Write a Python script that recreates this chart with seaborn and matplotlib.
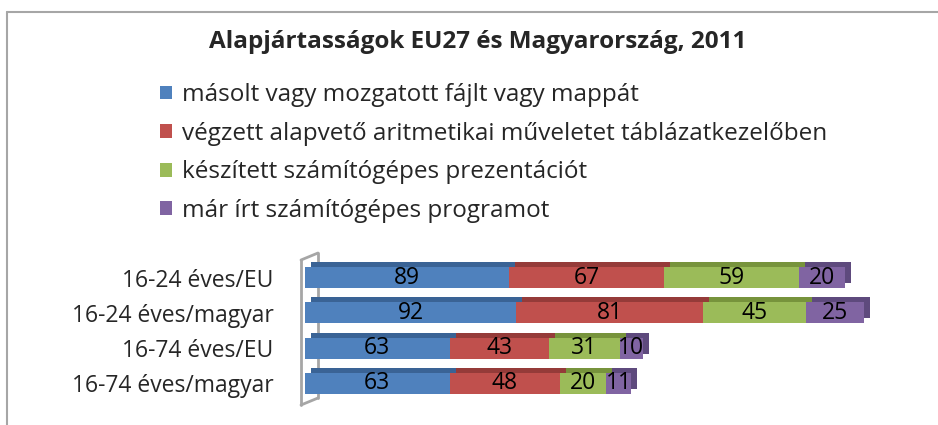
import numpy as np
import pandas as pd
import matplotlib.pyplot as plt
import matplotlib.transforms as mtransforms
from matplotlib.patches import Patch
import seaborn as sns

# chart data
categories = ["16-24 éves/EU", "16-24 éves/magyar", "16-74 éves/EU", "16-74 éves/magyar"]
series = ["másolt vagy mozgatott fájlt vagy mappát",
          "végzett alapvető aritmetikai műveletet táblázatkezelőben",
          "készített számítógépes prezentációt",
          "már írt számítógépes programot"]
copied = [89, 92, 63, 63]
arithmetic = [67, 81, 43, 48]
presentation = [59, 45, 31, 20]
program = [20, 25, 10, 11]

colors = ["#4F81BD", "#C0504D", "#9BBB59", "#8064A2"]
dark = ["#3A6395", "#953B39", "#77933C", "#5E4A7D"]

sns.set_style("white")
plt.rcParams["font.family"] = ["Open Sans", "DejaVu Sans"]

values = np.array([copied, arithmetic, presentation, program])
cum = values.cumsum(axis=0)

fig = plt.figure(figsize=(9.38, 4.25), dpi=100)
ax = fig.add_axes([300 / 938, 1 - 401 / 425, 603 / 938, 141 / 425])
ax.patch.set_visible(False)

# 3D look: darker copy shifted up/right behind the bars
shift = mtransforms.ScaledTranslation(6 / 100, 5 / 100, fig.dpi_scale_trans)
for k in range(3, -1, -1):
    n0 = len(ax.patches)
    df = pd.DataFrame({"cat": categories, "val": cum[k]})
    sns.barplot(data=df, x="val", y="cat", orient="h", color=dark[k],
                saturation=1, width=0.6, ax=ax, zorder=1,
                linewidth=0, edgecolor="none")
    for p in ax.patches[n0:]:
        p.set_transform(ax.transData + shift)

for k in range(3, -1, -1):
    df = pd.DataFrame({"cat": categories, "val": cum[k]})
    sns.barplot(data=df, x="val", y="cat", orient="h", color=colors[k],
                saturation=1, width=0.6, ax=ax, zorder=2,
                linewidth=0, edgecolor="none")

# value labels
for k in range(4):
    for i in range(len(categories)):
        start = cum[k][i] - values[k][i]
        ax.text(start + values[k][i] / 2, i, str(values[k][i]), ha="center",
                va="center", fontsize=16.5, color="black", zorder=5)

ax.set_xlim(-2, 260)
ax.set_xlabel("")
ax.set_ylabel("")
ax.set_xticks([])
ax.tick_params(axis="y", length=0, pad=19, labelsize=16.5)
for s in ["top", "right", "bottom", "left"]:
    ax.spines[s].set_visible(False)

# the gray side wall of the 3D chart
wall = dict(color="#A6A6A6", lw=2, clip_on=False, zorder=0, transform=fig.transFigure)
fig.add_artist(plt.Line2D([301 / 938, 301 / 938], [1 - 405 / 425, 1 - 260 / 425], **wall))
fig.add_artist(plt.Line2D([318 / 938, 318 / 938], [1 - 398 / 425, 1 - 253 / 425], **wall))
fig.add_artist(plt.Line2D([301 / 938, 318 / 938], [1 - 260 / 425, 1 - 253 / 425], **wall))
fig.add_artist(plt.Line2D([301 / 938, 318 / 938], [1 - 405 / 425, 1 - 398 / 425], **wall))

# outer frame
frame = dict(color="#A6A6A6", lw=1.5, transform=fig.transFigure)
fig.add_artist(plt.Line2D([7 / 938, 1.01], [1 - 12 / 425, 1 - 12 / 425], **frame))
fig.add_artist(plt.Line2D([7 / 938, 7 / 938], [-0.01, 1 - 12 / 425], **frame))

fig.text(478 / 938, 1 - 42 / 425, "Alapjártasságok EU27 és Magyarország, 2011",
         ha="center", va="center", fontsize=17.5, fontweight="bold")

handles = [Patch(facecolor=c, edgecolor="none") for c in colors]
fig.legend(handles, series, loc="upper left", bbox_to_anchor=(148 / 938, 1 - 71 / 425),
           frameon=False, fontsize=17.5, borderpad=0, handlelength=0.5,
           handleheight=0.5, handletextpad=0.38, labelspacing=0.6)

fig.savefig("out.png", dpi=100)
